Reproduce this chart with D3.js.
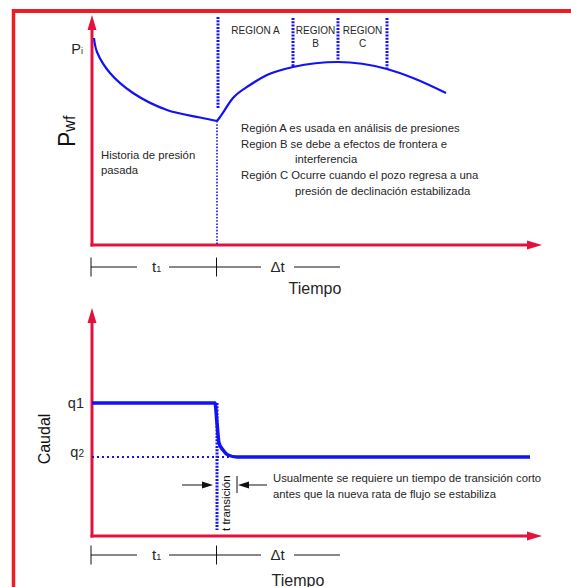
<!DOCTYPE html>
<html>
<head>
<meta charset="utf-8">
<script src="https://cdn.jsdelivr.net/npm/d3@7"></script>
<style>
  html, body { margin: 0; padding: 0; background: #fff; }
  svg { display: block; font-family: "Liberation Sans", Arial, sans-serif; }
</style>
</head>
<body>
<svg id="chart" width="571" height="587"></svg>
<script>
// ---- data ----
const t1 = 125;                       // time of the rate change
const tEnd = 248;                     // end of the Δt bracket
const pressureTop = 227;              // top of the region markers
const regionBounds = [201, 246, 295]; // ends of regions A, B, C
const regionNames = [["REGION A"], ["REGION", "B"], ["REGION", "C"]];

// pressure history before t1 (drawdown)
const drawT = [2, 5, 18, 41, 75, 108, 125];
const drawP = [207, 193, 172, 152, 135, 127.5, 124];
// pressure after t1 (buildup)
const buildT = [125, 128, 141, 158, 175, 201, 246, 295, 321, 354];
const buildP = [124, 128, 147, 160, 170, 178, 183, 176, 167, 152];
const pInitial = 207;
const pCusp = 137;                    // bottom of the heavy marker at t1

// flow rate
const rateT = [0, 123, 125, 127, 131, 136, 145, 438];
const rateQ = [133, 133, 113, 93, 86, 81, 79, 79];
const q1 = 133, q2 = 79;
const tTransEnd = 145;

const notesTop = [
  ["Región A es usada en análisis de presiones", 0],
  ["Region B se debe a efectos de frontera e", 0],
  ["interferencia", 1],
  ["Región C Ocurre cuando el pozo regresa a una", 0],
  ["presión de declinación estabilizada", 1]
];
const notesBottom = [
  "Usualmente se requiere un tiempo de transición corto",
  "antes que la nueva rata de flujo se estabiliza"
];

// ---- styles ----
const RED = "#e3123d", FRAME = "#ee1d25", BLUE = "#1212f5", TXT = "#262626";

const svg = d3.select("#chart");

// frame
svg.append("line").attr("x1", 12).attr("x2", 571).attr("y1", 11).attr("y2", 11)
  .attr("stroke", FRAME).attr("stroke-width", 4);
svg.append("line").attr("x1", 13.5).attr("x2", 13.5).attr("y1", 9).attr("y2", 587)
  .attr("stroke", FRAME).attr("stroke-width", 3.5);

const x = d3.scaleLinear().domain([0, 450]).range([92, 542]);
const yP = d3.scaleLinear().domain([0, 230]).range([245, 15]);
const yQ = d3.scaleLinear().domain([0, 230]).range([536, 306]);

function axesArrows(y, top) {
  const g = svg.append("g");
  const x0 = x(0), y0 = y(0), yt = y(top), xr = x(450);
  g.append("line").attr("x1", x0).attr("x2", x0).attr("y1", y0 + 1.5).attr("y2", yt + 12)
    .attr("stroke", RED).attr("stroke-width", 3);
  g.append("path").attr("d", `M${x0},${yt} L${x0 - 4.5},${yt + 15} L${x0 + 4.5},${yt + 15}Z`).attr("fill", RED);
  g.append("line").attr("x1", x0 - 1.5).attr("x2", xr - 12).attr("y1", y0).attr("y2", y0)
    .attr("stroke", RED).attr("stroke-width", 3);
  g.append("path").attr("d", `M${xr},${y0} L${xr - 15},${y0 - 4.5} L${xr - 15},${y0 + 4.5}Z`).attr("fill", RED);
}

// label axis with subscripted ticks
function tickAxis(scale, values, labels, pad) {
  const ax = d3.axisLeft(scale).tickValues(values).tickSize(0).tickPadding(pad);
  const g = svg.append("g").attr("transform", `translate(${x(0)},0)`).call(ax);
  g.select(".domain").remove();
  g.selectAll("text").each(function (d, i) {
    const t = d3.select(this).text("").attr("fill", TXT).attr("font-size", 14.5)
      .attr("font-family", "Liberation Sans, Arial, sans-serif");
    const [main, sub, subSize] = labels[i];
    t.append("tspan").text(main);
    if (sub) t.append("tspan").attr("font-size", subSize).text(sub);
  });
  return g;
}

function timeline(yLine, labelY, tiempoX, tiempoY) {
  const g = svg.append("g").attr("stroke", "#111").attr("stroke-width", 1);
  const xa = x(-1), xb = x(t1 - 0.5), xc = x(tEnd);
  [xa, xb].forEach(v => g.append("line").attr("x1", v).attr("x2", v)
    .attr("y1", yLine - 9.5).attr("y2", yLine + 9.5));
  // segments with gaps for labels
  const segs = [[xa, 137], [169, xb], [xb, 261], [294, xc]];
  segs.forEach(s => g.append("line").attr("x1", s[0]).attr("x2", s[1])
    .attr("y1", yLine).attr("y2", yLine));
  const t1Label = svg.append("text").attr("x", 152).attr("y", labelY).attr("fill", TXT)
    .attr("font-size", 15);
  t1Label.append("tspan").text("t");
  t1Label.append("tspan").attr("font-size", 9).text("1");
  svg.append("text").attr("x", 277.5).attr("y", labelY).attr("text-anchor", "middle")
    .attr("fill", TXT).attr("font-size", 15).text("Δt");
  svg.append("text").attr("x", tiempoX).attr("y", tiempoY).attr("text-anchor", "middle")
    .attr("fill", TXT).attr("font-size", 16).text("Tiempo");
}

// ================= top chart: pressure =================
axesArrows(yP, 230);

svg.append("path").datum(d3.zip(drawT, drawP))
  .attr("d", d3.line().x(d => x(d[0])).y(d => yP(d[1])).curve(d3.curveCatmullRom.alpha(0.5)))
  .attr("fill", "none").attr("stroke", BLUE).attr("stroke-width", 2.2);
svg.append("path").datum(d3.zip(buildT, buildP))
  .attr("d", d3.line().x(d => x(d[0])).y(d => yP(d[1])).curve(d3.curveMonotoneX))
  .attr("fill", "none").attr("stroke", BLUE).attr("stroke-width", 2.2);

function pAt(t) {
  for (let i = 1; i < buildT.length; i++) {
    if (t <= buildT[i]) {
      const f = (t - buildT[i - 1]) / (buildT[i] - buildT[i - 1]);
      return buildP[i - 1] + f * (buildP[i] - buildP[i - 1]);
    }
  }
  return buildP[buildP.length - 1];
}

// heavy marker at t1 and region boundaries
svg.append("line").attr("x1", x(t1) + 1).attr("x2", x(t1) + 1)
  .attr("y1", yP(pressureTop + 1)).attr("y2", yP(pCusp))
  .attr("stroke", BLUE).attr("stroke-width", 3).attr("stroke-dasharray", "2,1.3");
svg.append("line").attr("x1", x(t1)).attr("x2", x(t1))
  .attr("y1", yP(drawP[drawP.length - 1])).attr("y2", yP(1))
  .attr("stroke", BLUE).attr("stroke-width", 1.6).attr("stroke-dasharray", "1.6,1.6");
regionBounds.forEach(t => {
  svg.append("line").attr("x1", x(t)).attr("x2", x(t))
    .attr("y1", yP(pressureTop)).attr("y2", yP(pAt(t)))
    .attr("stroke", BLUE).attr("stroke-width", 3).attr("stroke-dasharray", "2,1.3");
});
const starts = [t1 + 1].concat(regionBounds.slice(0, 2));
regionNames.forEach((lines, i) => {
  const cx = (x(starts[i]) + x(regionBounds[i])) / 2;
  lines.forEach((s, j) => svg.append("text").attr("x", cx).attr("y", 33.5 + j * 13.5)
    .attr("text-anchor", "middle").attr("font-size", 10).attr("fill", TXT).text(s));
});

tickAxis(yP, [pInitial], [["P", "i", 9]], 9).attr("transform", `translate(${x(0)},11)`);

// Pwf label
const pwf = svg.append("text").attr("transform", "translate(75,147) rotate(-90)")
  .attr("fill", "#111").attr("font-size", 23);
pwf.append("tspan").text("P");
pwf.append("tspan").attr("font-size", 16).text("wf");

svg.append("text").attr("x", 101).attr("y", 159).attr("font-size", 11.3).attr("fill", TXT)
  .text("Historia de presión");
svg.append("text").attr("x", 101).attr("y", 174).attr("font-size", 11.3).attr("fill", TXT)
  .text("pasada");
notesTop.forEach((n, i) => svg.append("text").attr("x", n[1] ? 295 : 241)
  .attr("y", 132 + i * 15.7).attr("font-size", 11.3).attr("fill", TXT).text(n[0]));

timeline(267, 272, 315, 294);

// ================= bottom chart: flow rate =================
axesArrows(yQ, 228);

svg.append("line").attr("x1", x(0)).attr("x2", x(140)).attr("y1", yQ(q2)).attr("y2", yQ(q2))
  .attr("stroke", BLUE).attr("stroke-width", 2).attr("stroke-dasharray", "2,3");
svg.append("path").datum(d3.zip(rateT, rateQ))
  .attr("d", d3.line().x(d => x(d[0])).y(d => yQ(d[1])).curve(d3.curveMonotoneX))
  .attr("fill", "none").attr("stroke", BLUE).attr("stroke-width", 3.5)
  .attr("stroke-linejoin", "round");
svg.append("line").attr("x1", x(t1)).attr("x2", x(t1))
  .attr("y1", yQ(q1)).attr("y2", yQ(6))
  .attr("stroke", BLUE).attr("stroke-width", 3).attr("stroke-dasharray", "2,1.3");

tickAxis(yQ, [q1, q2], [["q1"], ["q", "2", 10]], 8)
  .selectAll("text").attr("dy", (d, i) => i ? "-0.05em" : "0.32em");

svg.append("text").attr("transform", "translate(50,439) rotate(-90)")
  .attr("text-anchor", "middle").attr("font-size", 16).attr("fill", "#111").text("Caudal");

svg.append("text").attr("transform", `translate(${x(t1) + 13},531) rotate(-90)`)
  .attr("font-size", 11.5).attr("fill", "#111").text("t transición");

// transition arrows
const ay = 485, aL = x(t1) - 4, aR = x(tTransEnd) + 1;
svg.append("line").attr("x1", 182).attr("x2", aL - 8).attr("y1", ay).attr("y2", ay)
  .attr("stroke", "#111").attr("stroke-width", 1);
svg.append("path").attr("d", `M${aL},${ay} L${aL - 11},${ay - 3.5} L${aL - 11},${ay + 3.5}Z`).attr("fill", "#111");
svg.append("line").attr("x1", aR - 1).attr("x2", aR - 1).attr("y1", ay - 9).attr("y2", ay + 8)
  .attr("stroke", "#111").attr("stroke-width", 1);
svg.append("path").attr("d", `M${aR},${ay} L${aR + 11},${ay - 3.5} L${aR + 11},${ay + 3.5}Z`).attr("fill", "#111");
svg.append("line").attr("x1", aR + 8).attr("x2", 267).attr("y1", ay).attr("y2", ay)
  .attr("stroke", "#111").attr("stroke-width", 1);

notesBottom.forEach((s, i) => svg.append("text").attr("x", 273).attr("y", 482 + i * 16)
  .attr("font-size", 11.3).attr("fill", TXT).text(s));

timeline(555, 560, 298, 586);
</script>
</body>
</html>
